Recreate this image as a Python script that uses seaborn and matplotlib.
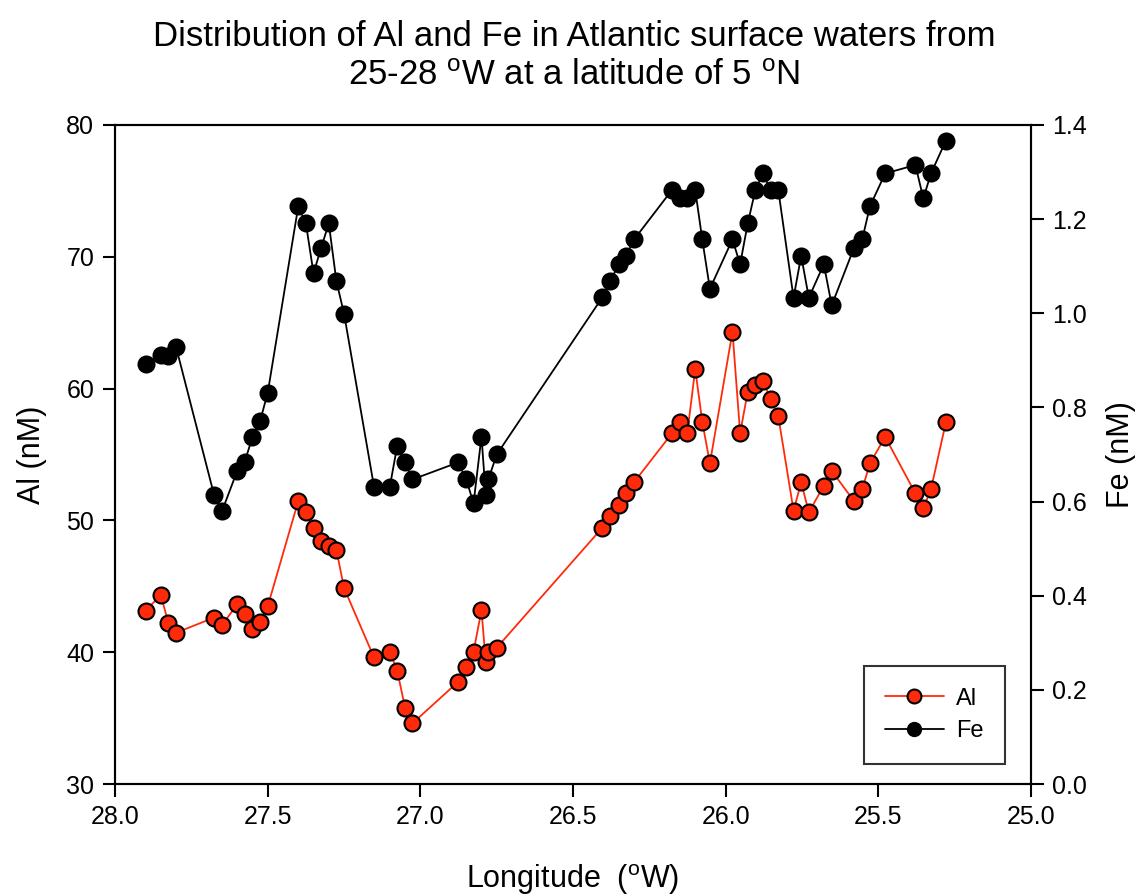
import matplotlib
matplotlib.use("Agg")
import matplotlib.pyplot as plt
import seaborn as sns
import pandas as pd
from matplotlib.lines import Line2D

longitude = [27.90, 27.85, 27.825, 27.80, 27.676, 27.65, 27.60, 27.576, 27.55, 27.525, 27.50,
             27.40, 27.375, 27.35, 27.325, 27.30, 27.275, 27.25,
             27.152, 27.10, 27.076, 27.05, 27.026,
             26.877, 26.85, 26.826, 26.80, 26.786, 26.777, 26.75,
             26.404, 26.378, 26.35, 26.326, 26.30,
             26.176, 26.15, 26.126, 26.10, 26.077, 26.052,
             25.978, 25.953, 25.928, 25.903, 25.878, 25.853, 25.828,
             25.778, 25.753, 25.728, 25.679, 25.653,
             25.58, 25.553, 25.528, 25.478, 25.379, 25.353, 25.328, 25.279]

al_nM = [43.15, 44.34, 42.19, 41.48, 42.62, 42.04, 43.63, 42.90, 41.76, 42.31, 43.48,
         51.47, 50.64, 49.45, 48.46, 48.06, 47.75, 44.87,
         39.61, 40.04, 38.60, 35.77, 34.60,
         37.74, 38.88, 40.04, 43.18, 39.28, 40.04, 40.34,
         49.45, 50.33, 51.19, 52.05, 52.91,
         56.61, 57.49, 56.61, 61.49, 57.49, 54.33,
         64.32, 56.61, 59.77, 60.27, 60.60, 59.19, 57.90,
         50.74, 52.89, 50.61, 52.63, 53.75,
         51.47, 52.36, 54.33, 56.33, 52.05, 50.92, 52.36, 57.46]

fe_nM = [0.893, 0.911, 0.909, 0.928, 0.615, 0.579, 0.665, 0.683, 0.737, 0.771, 0.831,
         1.227, 1.191, 1.085, 1.139, 1.191, 1.068, 0.999,
         0.632, 0.632, 0.718, 0.683, 0.647,
         0.683, 0.648, 0.596, 0.738, 0.614, 0.648, 0.700,
         1.034, 1.069, 1.104, 1.122, 1.157,
         1.262, 1.244, 1.244, 1.262, 1.157, 1.052,
         1.157, 1.104, 1.191, 1.262, 1.297, 1.262, 1.262,
         1.033, 1.122, 1.033, 1.104, 1.017,
         1.139, 1.157, 1.227, 1.297, 1.315, 1.244, 1.297, 1.367]

al_ticks = [30, 40, 50, 60, 70, 80]
fe_ticks = [0.0, 0.2, 0.4, 0.6, 0.8, 1.0, 1.2, 1.4]
lon_ticks = [28.0, 27.5, 27.0, 26.5, 26.0, 25.5, 25.0]

df = pd.DataFrame({"lon": longitude, "Al": al_nM, "Fe": fe_nM})

sns.set_theme(style="ticks")
plt.rcParams["font.family"] = ["Liberation Sans", "DejaVu Sans"]
plt.rcParams["mathtext.default"] = "regular"
plt.rcParams["text.color"] = "black"
plt.rcParams["axes.labelcolor"] = "black"

fig = plt.figure(figsize=(11.48, 8.96), dpi=100)
ax = fig.add_axes([0.1002, 0.125, 0.798, 0.7355])
ax2 = ax.twinx()

red = "#FF2A0A"
ms = 11.5
sns.lineplot(data=df, x="lon", y="Al", ax=ax, sort=False, estimator=None,
             color=red, linewidth=1.3, marker="o", markersize=ms,
             markerfacecolor=red, markeredgecolor="black", markeredgewidth=1.5, zorder=3)
sns.lineplot(data=df, x="lon", y="Fe", ax=ax2, sort=False, estimator=None,
             color="black", linewidth=1.3, marker="o", markersize=ms,
             markerfacecolor="black", markeredgecolor="black", markeredgewidth=1.5, zorder=3)

ax.set_xlim(28.0, 25.0)
ax.set_ylim(30, 80)
ax2.set_ylim(0, 1.4)
ax.set_xticks(lon_ticks)
ax.set_xticklabels([f"{t:.1f}" for t in lon_ticks])
ax.set_yticks(al_ticks)
ax2.set_yticks(fe_ticks)
ax2.set_yticklabels([f"{t:.1f}" for t in fe_ticks])

for a in (ax, ax2):
    for s in a.spines.values():
        s.set_linewidth(1.5)
        s.set_color("black")
        s.set_visible(True)
    a.tick_params(direction="out", length=9, width=1.5, labelsize=18,
                  colors="black", labelcolor="black", pad=6)

ax.set_xlabel("Longitude  ($^{o}$W)", fontsize=22, labelpad=24, color="black")
ax.set_ylabel("Al (nM)", fontsize=22, labelpad=14, color="black")
ax2.set_ylabel("Fe (nM)", fontsize=22, labelpad=14, color="black")

fig.suptitle("Distribution of Al and Fe in Atlantic surface waters from\n25-28 $^{o}$W at a latitude of 5 $^{o}$N",
             fontsize=25, y=0.978, linespacing=1.25, color="black")

handles = [Line2D([], [], color=red, linewidth=1.3, marker="o", markersize=10,
                  markerfacecolor=red, markeredgecolor="black", markeredgewidth=1.5),
           Line2D([], [], color="black", linewidth=1.3, marker="o", markersize=10,
                  markerfacecolor="black", markeredgecolor="black")]
leg = ax2.legend(handles, ["Al", "Fe"], loc="lower right", bbox_to_anchor=(0.971, 0.031),
                 fontsize=17, frameon=True, fancybox=False, edgecolor="black",
                 handlelength=2.5, borderpad=0.9, labelspacing=0.45, handletextpad=0.5,
                 borderaxespad=0)
leg.get_frame().set_linewidth(1.5)
for t in leg.get_texts():
    t.set_color("black")
if ax.get_legend() is not None:
    ax.get_legend().remove()

fig.savefig("out.png", dpi=100)
